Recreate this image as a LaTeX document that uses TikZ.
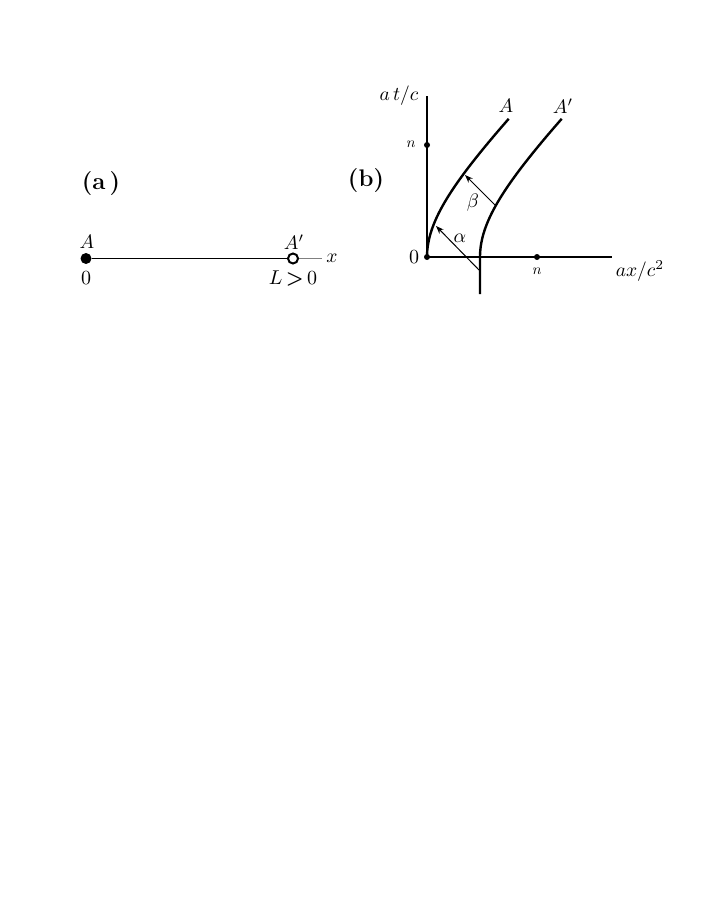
\documentclass[tikz,border=0pt]{standalone}
\usetikzlibrary{arrows.meta}
\tikzset{
  lbl/.style={inner sep=0pt, font=\fontsize{10}{12}\selectfont, scale=1.95},
  dig/.style={inner sep=0pt, font=\fontsize{10}{12}\selectfont, scale=2.0},
  small/.style={inner sep=0pt, font=\fontsize{10}{12}\selectfont, scale=1.5},
  panel/.style={inner sep=0pt, font=\fontsize{24}{28}\selectfont\bfseries},
  world/.style={line width=2.4pt},
  axis/.style={line width=1.2pt},
  arr/.style={line width=1pt, -{Stealth[length=8pt,width=6pt]}},
  dotf/.style={circle, fill=black, inner sep=0pt, minimum size=#1},
}
\begin{document}
\begin{tikzpicture}[x=1pt,y=-1pt]
\useasboundingbox (0,0) rectangle (708,917);
% ---------- panel (a)
\node[panel] (pa) at (101,184) {(a\,)};
\node[dotf=11pt] (dA) at (86,258.5) {};
\node[circle, draw=black, line width=2pt, fill=white, inner sep=0pt, minimum size=10pt] (dAp) at (293,258.5) {};
\coordinate (xend) at (322,258.5);
\draw[line width=1.3pt] (dA) -- (dAp);
\draw[line width=0.8pt, gray] (dAp) -- (xend);
\node[lbl, anchor=west] (xl) at (326,258) {$x$};
\node[lbl] (lA) at (87,242) {$A$};
\node[dig] (l0) at (86,278) {$0$};
\node[lbl] (lAp) at (294,242) {$A'$};
\node[dig] (lL) at (293,279) {$L$\,\textbf{>}\,$0$};
% ---------- panel (b)
\node[panel] (pb) at (366,181) {(b)};
\node[dotf=6pt] (O) at (427,257) {};
\coordinate (ytop) at (427,96);
\coordinate (xright) at (612,257);
\draw[axis] (O.center) -- (ytop);
\draw[axis] (O.center) -- (xright);
\node[dotf=6pt] (ny) at (427,145) {};
\node[dotf=6pt] (nx) at (537,257) {};
\node[small] (nyl) at (411,144) {$n$};
\node[small] (nxl) at (537,271) {$n$};
\node[dig] (l0b) at (414,257) {$0$};
\node[lbl] (tl) at (399,96) {$a\,t/c$};
\node[lbl] (xlb) at (640,271) {$ax/c^2$};
% world lines
\draw[world] plot[domain=0:1.36, samples=60, smooth] ({427+76*(cosh(\x)-1)},{257-76*sinh(\x)});
\coordinate (Apbot) at (480,294);
\coordinate (Ap0) at (480,257);
\draw[world] (Apbot) -- (Ap0) -- plot[domain=0:1.36, samples=60, smooth] ({480+76*(cosh(\x)-1)},{257-76*sinh(\x)});
\node[lbl] (lAb) at (506,106) {$A$};
\node[lbl] (lApb) at (563,106) {$A'$};
% arrows
\coordinate (a1) at (479,270);
\coordinate (a2) at (436,226);
\coordinate (b1) at (495,205);
\coordinate (b2) at (465,175);
\draw[arr] (a1) -- (a2);
\draw[arr] (b1) -- (b2);
\node[lbl] (alpha) at (460,238) {$\alpha$};
\node[lbl] (beta) at (473,203) {$\beta$};
\end{tikzpicture}
\end{document}
